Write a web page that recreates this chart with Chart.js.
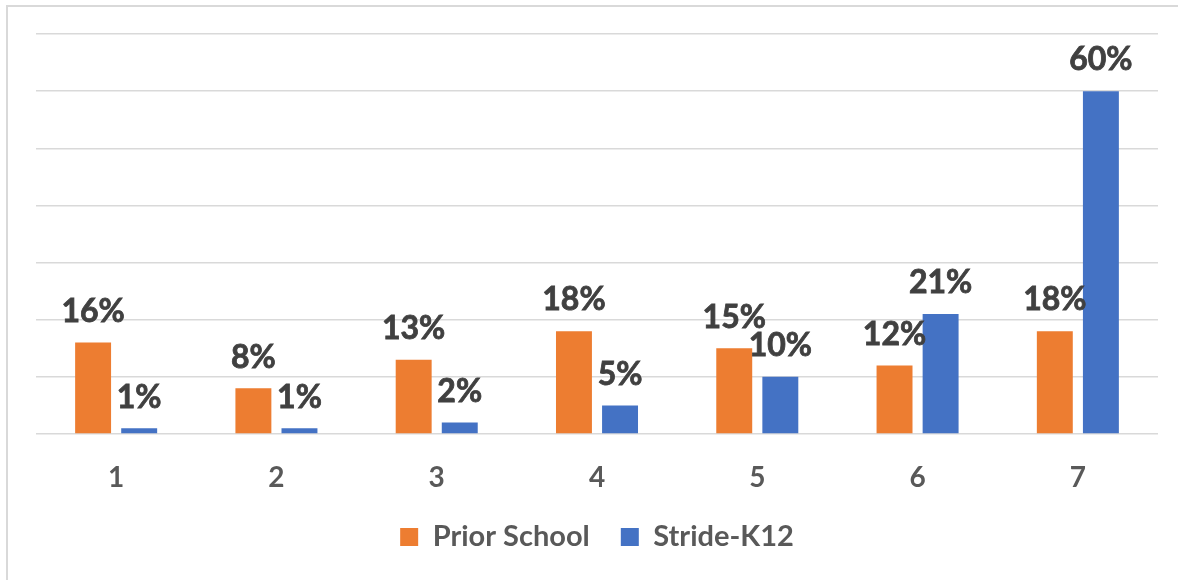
<!DOCTYPE html>
<html>
<head>
<meta charset="utf-8">
<script src="https://cdn.jsdelivr.net/npm/chart.js@4/dist/chart.umd.min.js"></script>
<style>
  html, body { margin: 0; padding: 0; background: #fff; }
  .frame {
    position: absolute; left: 6px; top: 5px; width: 1180px; height: 600px;
    border: 2px solid #d9d9d9; box-sizing: border-box;
  }
  .wrap { position: absolute; left: 0; top: 0; width: 1178px; height: 580px; }
</style>
</head>
<body>
<div class="frame"></div>
<div class="wrap"><canvas id="chart"></canvas></div>
<script>
const categories = ['1', '2', '3', '4', '5', '6', '7'];
const priorSchool = [16, 8, 13, 18, 15, 12, 18];
const strideK12 = [1, 1, 2, 5, 10, 21, 60];
const seriesNames = ['Prior School', 'Stride-K12'];
const yTicks = [0, 10, 20, 30, 40, 50, 60, 70];

const FONT = 'Lato, "Open Sans", sans-serif';

// draws the "16%" style labels above each bar
const barLabels = {
  id: 'barLabels',
  afterDatasetsDraw(chart) {
    const ctx = chart.ctx;
    ctx.save();
    ctx.font = 'bold 32px ' + FONT;
    ctx.fillStyle = '#404040';
    ctx.strokeStyle = '#404040';
    ctx.lineWidth = 0.8;
    ctx.textAlign = 'center';
    ctx.textBaseline = 'middle';
    chart.data.datasets.forEach((ds, i) => {
      chart.getDatasetMeta(i).data.forEach((bar, j) => {
        const txt = ds.data[j] + '%';
        ctx.fillText(txt, bar.x, bar.y - 31);
        ctx.strokeText(txt, bar.x, bar.y - 31);
      });
    });
    ctx.restore();
  },
};

new Chart(document.getElementById('chart'), {
  type: 'bar',
  data: {
    labels: categories,
    datasets: [{
      label: seriesNames[0],
      data: priorSchool,
      backgroundColor: '#ED7D31',
      categoryPercentage: 0.575,
      barPercentage: 0.78,
    }, {
      label: seriesNames[1],
      data: strideK12,
      backgroundColor: '#4472C4',
      categoryPercentage: 0.575,
      barPercentage: 0.78,
    }],
  },
  options: {
    responsive: true,
    maintainAspectRatio: false,
    animation: false,
    layout: {
      padding: {left: 36, right: 20, top: 34, bottom: 18.5},
    },
    plugins: {
      tooltip: {enabled: false},
      legend: {
        position: 'bottom',
        labels: {
          boxWidth: 18,
          boxHeight: 18,
          padding: 31,
          color: '#595959',
          font: {family: FONT, size: 29, weight: 'bold'},
        },
      },
    },
    scales: {
      x: {
        grid: {display: false, tickLength: 29.5},
        border: {display: false},
        ticks: {
          color: '#595959',
          padding: 0,
          font: {family: FONT, size: 28, weight: 'bold', lineHeight: 1},
        },
      },
      y: {
        min: yTicks[0],
        max: yTicks[yTicks.length - 1],
        afterBuildTicks: (axis) => {
          axis.ticks = yTicks.map((v) => ({value: v}));
        },
        grid: {color: '#d9d9d9', lineWidth: 1.5, drawTicks: false},
        border: {display: false},
        ticks: {display: false},
      },
    },
  },
  plugins: [barLabels],
});
</script>
</body>
</html>
